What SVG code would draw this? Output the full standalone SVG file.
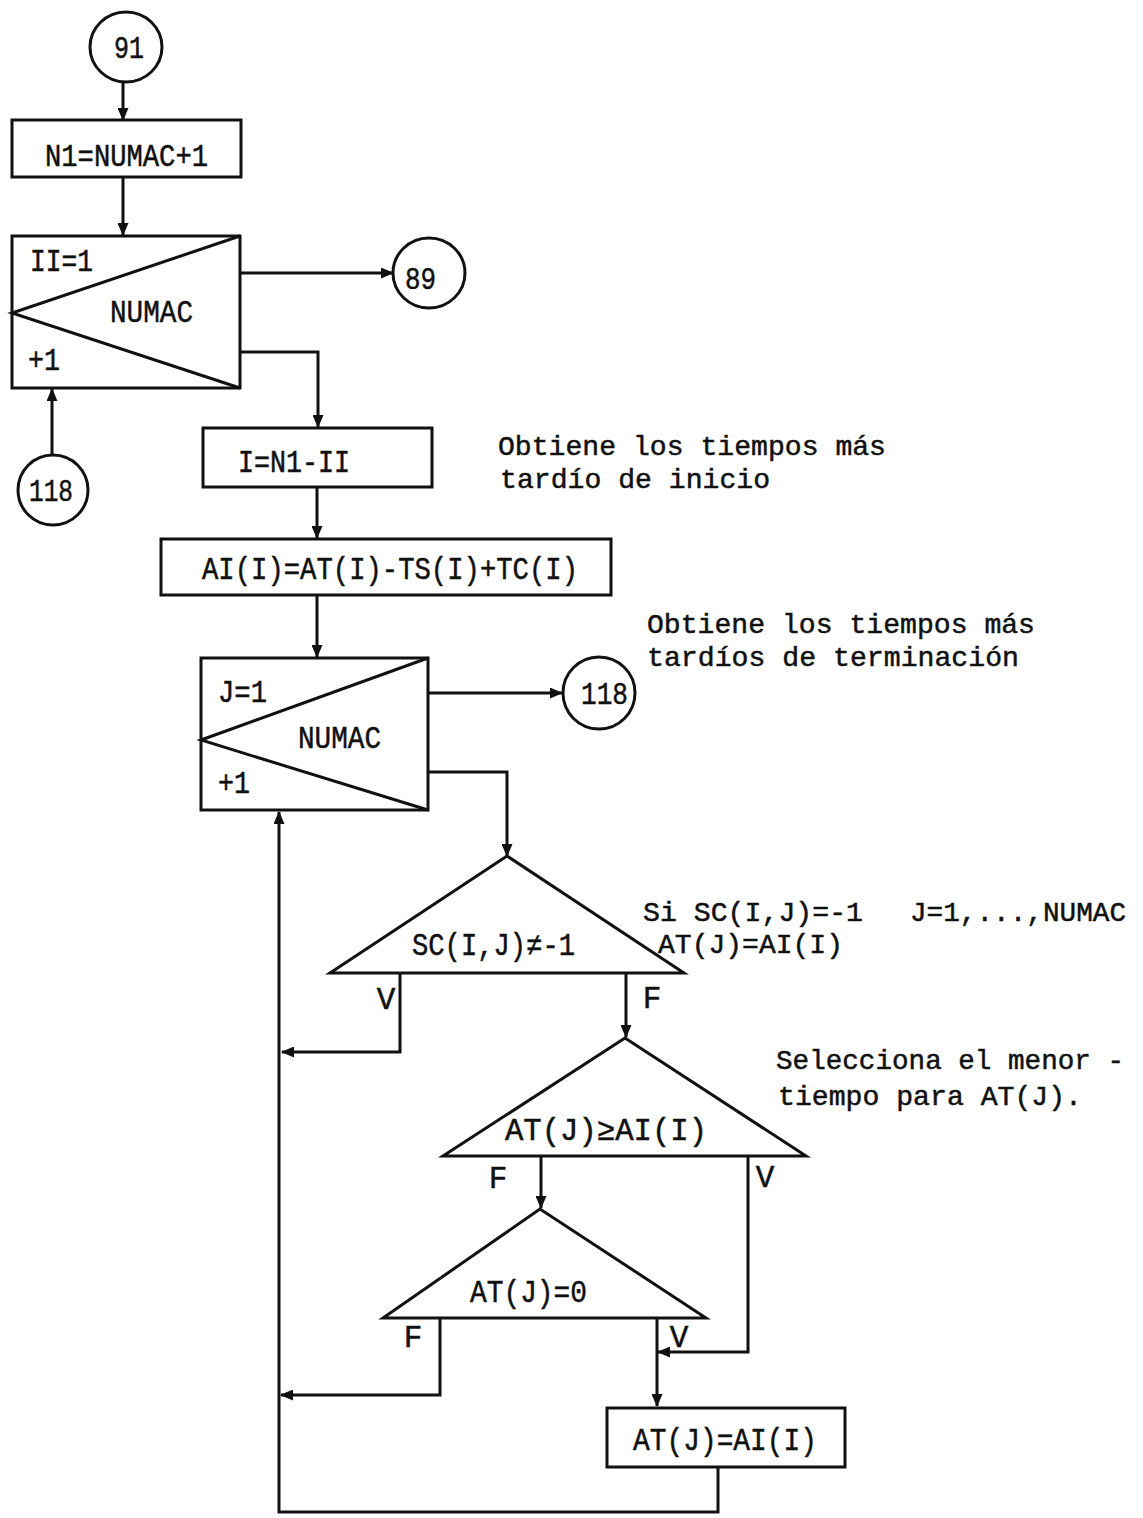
<svg xmlns="http://www.w3.org/2000/svg" width="1143" height="1518" viewBox="0 0 1143 1518">
<style>
.s{fill:none;stroke:#111;stroke-width:3;stroke-linejoin:miter}
.w{fill:#fff;stroke:#111;stroke-width:3}
.t{font-family:"Liberation Mono","Courier New",monospace;font-size:31px;fill:#111;stroke:#111;stroke-width:0.5}
.n{font-size:28px}
.c{text-anchor:middle}
</style>
<defs>
<marker id="a" markerUnits="userSpaceOnUse" markerWidth="13" markerHeight="11" refX="12" refY="5.5" orient="auto">
<path d="M0,0 L13,5.5 L0,11 Z" fill="#111"/>
</marker>
</defs>
<rect width="1143" height="1518" fill="#fff"/>
<g id="connectors">
<path class="s" d="M123 83 V120" marker-end="url(#a)"/>
<path class="s" d="M123 177 V235" marker-end="url(#a)"/>
<path class="s" d="M240 273 H393" marker-end="url(#a)"/>
<path class="s" d="M240 352 H318 V427" marker-end="url(#a)"/>
<path class="s" d="M52 455 V389" marker-end="url(#a)"/>
<path class="s" d="M317 487 V538" marker-end="url(#a)"/>
<path class="s" d="M317 595 V657" marker-end="url(#a)"/>
<path class="s" d="M428 693 H562" marker-end="url(#a)"/>
<path class="s" d="M428 772 H507 V856" marker-end="url(#a)"/>
<path class="s" d="M400 973 V1052 H282" marker-end="url(#a)"/>
<path class="s" d="M626 973 V1037" marker-end="url(#a)"/>
<path class="s" d="M541 1156 V1208" marker-end="url(#a)"/>
<path class="s" d="M748 1156 V1352 H658" marker-end="url(#a)"/>
<path class="s" d="M440 1318 V1395 H281" marker-end="url(#a)"/>
<path class="s" d="M657 1318 V1406" marker-end="url(#a)"/>
<path class="s" d="M718 1467 V1512 H279 V812" marker-end="url(#a)"/>
</g>
<g id="c91">
<ellipse class="w" cx="126" cy="47" rx="36" ry="35"/>
<text class="t c" x="129" y="58" textLength="30" lengthAdjust="spacingAndGlyphs">91</text>
</g>
<g id="n1">
<rect class="w" x="12" y="120" width="229" height="57"/>
<text class="t" x="45" y="166" textLength="163" lengthAdjust="spacingAndGlyphs">N1=NUMAC+1</text>
</g>
<g id="loop1">
<rect class="w" x="12" y="236" width="228" height="152"/>
<polyline class="s" points="240,236 12,313 240,388"/>
<text class="t" x="30" y="271" textLength="63" lengthAdjust="spacingAndGlyphs">II=1</text>
<text class="t" x="110" y="322" textLength="83" lengthAdjust="spacingAndGlyphs">NUMAC</text>
<text class="t" x="28" y="370" textLength="32" lengthAdjust="spacingAndGlyphs">+1</text>
</g>
<g id="c89">
<ellipse class="w" cx="429" cy="273" rx="36" ry="35"/>
<text class="t" x="405" y="289" textLength="31" lengthAdjust="spacingAndGlyphs">89</text>
</g>
<g id="c118a">
<ellipse class="w" cx="53" cy="490" rx="35" ry="35"/>
<text class="t" x="29" y="501" textLength="44" lengthAdjust="spacingAndGlyphs">118</text>
</g>
<g id="nI">
<rect class="w" x="203" y="428" width="229" height="59"/>
<text class="t" x="238" y="472" textLength="112" lengthAdjust="spacingAndGlyphs">I=N1-II</text>
</g>
<g id="nAI">
<rect class="w" x="161" y="539" width="450" height="56"/>
<text class="t" x="202" y="579" textLength="376" lengthAdjust="spacingAndGlyphs">AI(I)=AT(I)-TS(I)+TC(I)</text>
</g>
<g id="loop2">
<rect class="w" x="201" y="658" width="227" height="152"/>
<polyline class="s" points="428,658 201,740 428,810"/>
<text class="t" x="218" y="702" textLength="49" lengthAdjust="spacingAndGlyphs">J=1</text>
<text class="t" x="298" y="748" textLength="83" lengthAdjust="spacingAndGlyphs">NUMAC</text>
<text class="t" x="218" y="793" textLength="32" lengthAdjust="spacingAndGlyphs">+1</text>
</g>
<g id="c118b">
<ellipse class="w" cx="599" cy="693" rx="36" ry="36"/>
<text class="t" x="581" y="704" textLength="47" lengthAdjust="spacingAndGlyphs">118</text>
</g>
<g id="t1">
<polygon class="w" points="507,856 330,973 684,973"/>
<text class="t" x="412" y="955" textLength="163" lengthAdjust="spacingAndGlyphs">SC(I,J)≠-1</text>
<text class="t c" x="386" y="1009">V</text>
<text class="t c" x="652" y="1008">F</text>
</g>
<g id="t2">
<polygon class="w" points="625,1038 443,1156 806,1156"/>
<text class="t" x="505" y="1140" textLength="202" lengthAdjust="spacingAndGlyphs">AT(J)≥AI(I)</text>
<text class="t c" x="498" y="1188">F</text>
<text class="t c" x="765" y="1187">V</text>
</g>
<g id="t3">
<polygon class="w" points="540,1209 383,1318 706,1318"/>
<text class="t" x="470" y="1302" textLength="117" lengthAdjust="spacingAndGlyphs">AT(J)=0</text>
<text class="t c" x="413" y="1347">F</text>
<text class="t c" x="679" y="1347">V</text>
</g>
<g id="nAT">
<rect class="w" x="607" y="1408" width="238" height="59"/>
<text class="t" x="633" y="1450" textLength="184" lengthAdjust="spacingAndGlyphs">AT(J)=AI(I)</text>
</g>
<g id="notes">
<text class="t n" x="498" y="455" textLength="388" lengthAdjust="spacingAndGlyphs">Obtiene los tiempos más</text>
<text class="t n" x="500" y="488" textLength="270" lengthAdjust="spacingAndGlyphs">tardío de inicio</text>
<text class="t n" x="647" y="633" textLength="388" lengthAdjust="spacingAndGlyphs">Obtiene los tiempos más</text>
<text class="t n" x="647" y="666" textLength="372" lengthAdjust="spacingAndGlyphs">tardíos de terminación</text>
<text class="t n" x="643" y="921" textLength="220" lengthAdjust="spacingAndGlyphs">Si SC(I,J)=-1</text>
<text class="t n" x="910" y="921" textLength="216" lengthAdjust="spacingAndGlyphs">J=1,...,NUMAC</text>
<text class="t n" x="658" y="953" textLength="185" lengthAdjust="spacingAndGlyphs">AT(J)=AI(I)</text>
<text class="t n" x="776" y="1069" textLength="348" lengthAdjust="spacingAndGlyphs">Selecciona el menor -</text>
<text class="t n" x="778" y="1105" textLength="304" lengthAdjust="spacingAndGlyphs">tiempo para AT(J).</text>
</g>
</svg>
